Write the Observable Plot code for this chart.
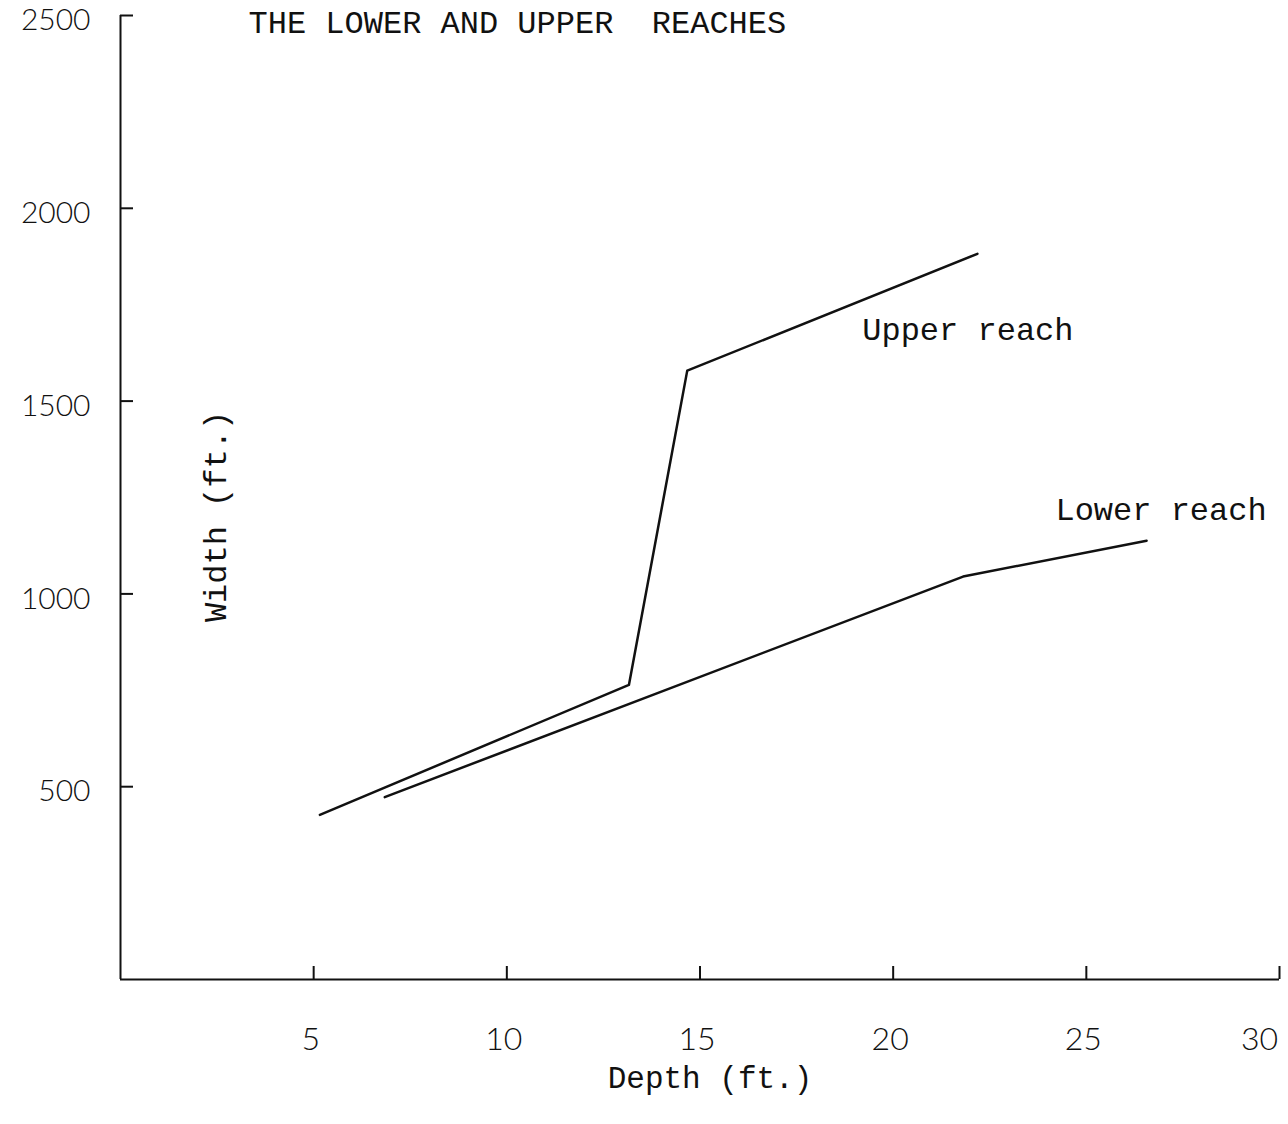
<!DOCTYPE html>
<html>
<head>
<meta charset="utf-8">
<script src="https://cdn.jsdelivr.net/npm/d3@7"></script>
<script src="https://cdn.jsdelivr.net/npm/@observablehq/plot@0.6"></script>
<style>
  html, body { margin: 0; padding: 0; background: #fff; }
  #chart svg { display: block; }
</style>
</head>
<body>
<div id="chart"></div>
<script>
// Data
const upperDepth = [5.16, 13.16, 14.67, 22.18];
const upperWidth = [427, 764, 1579, 1882];
const lowerDepth = [6.84, 21.81, 26.56];
const lowerWidth = [473, 1045, 1138];

const xTicks = [5, 10, 15, 20, 25, 30];
const yTicks = [500, 1000, 1500, 2000, 2500];

const seriesNames = ["Upper reach", "Lower reach"];
const labelDepth = [19.2, 24.2];
const labelWidth = [1685, 1218];

const title = "THE LOWER AND UPPER  REACHES";
const xLabel = "Depth (ft.)";
const yLabel = "Width (ft.)";

const upper = upperDepth.map((d, i) => ({depth: d, width: upperWidth[i], series: seriesNames[0]}));
const lower = lowerDepth.map((d, i) => ({depth: d, width: lowerWidth[i], series: seriesNames[1]}));
const labels = seriesNames.map((s, i) => ({name: s, depth: labelDepth[i], width: labelWidth[i]}));

const mono = "'Liberation Mono', 'DejaVu Sans Mono', monospace";
const sans = "Lato, 'Noto Sans', 'DejaVu Sans', sans-serif";
const fmt = d => String(d);

const chart = Plot.plot({
  width: 1288,
  height: 1124,
  marginTop: 15,
  marginBottom: 145,
  marginLeft: 120,
  marginRight: 9,
  style: {background: "#fff", color: "#111"},
  x: {domain: [0, 30]},
  y: {domain: [0, 2500]},
  marks: [
    Plot.ruleX([0], {stroke: "#111", strokeWidth: 2}),
    Plot.ruleY([0], {stroke: "#111", strokeWidth: 2}),
    // inward ticks
    Plot.axisX(xTicks, {tickSize: -13, text: null, label: null, strokeWidth: 2}),
    Plot.axisY(yTicks, {tickSize: -13, text: null, label: null, strokeWidth: 2}),
    // tick labels
    Plot.axisX(xTicks.slice(0, -1), {tickSize: 0, tickPadding: 48, label: null, tickFormat: fmt, fontSize: 32, fontFamily: sans, fontWeight: 300, dx: -3}),
    Plot.axisX(xTicks.slice(-1), {tickSize: 0, tickPadding: 48, label: null, tickFormat: fmt, fontSize: 32, fontFamily: sans, fontWeight: 300, dx: -20}),
    Plot.axisY(yTicks, {tickSize: 0, tickPadding: 30, label: null, tickFormat: fmt, fontSize: 30, fontFamily: sans, fontWeight: 300, dy: 5}),
    Plot.line(upper, {x: "depth", y: "width", stroke: "#111", strokeWidth: 2.5}),
    Plot.line(lower, {x: "depth", y: "width", stroke: "#111", strokeWidth: 2.5}),
    Plot.text(labels, {x: "depth", y: "width", text: "name", textAnchor: "start", fontSize: 32, fontFamily: mono, fill: "#111"}),
    Plot.text([title], {frameAnchor: "top-left", dx: 128, dy: -5, textAnchor: "start", fontSize: 32, fontFamily: mono, fill: "#111"}),
    Plot.text([xLabel], {frameAnchor: "bottom", dx: 10, dy: 108, fontSize: 31, fontFamily: mono, fill: "#111"}),
    Plot.text([yLabel], {frameAnchor: "left", textAnchor: "middle", rotate: -90, dx: 95, dy: 19, fontSize: 32, fontFamily: mono, fill: "#111"})
  ]
});
document.getElementById("chart").appendChild(chart);
</script>
</body>
</html>
